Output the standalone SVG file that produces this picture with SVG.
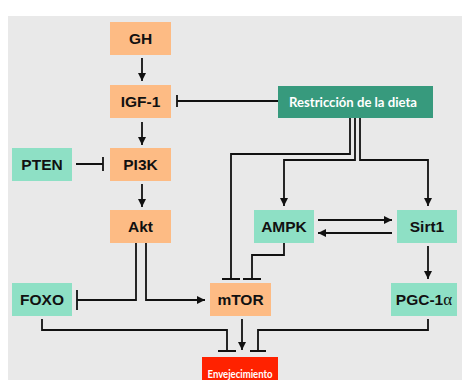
<svg xmlns="http://www.w3.org/2000/svg" width="462" height="380" viewBox="0 0 462 380">
<defs>
<marker id="arr" viewBox="0 0 10 10" refX="10" refY="5" markerWidth="4.5" markerHeight="4.5" orient="auto" markerUnits="strokeWidth">
<path d="M0,0 L10,5 L0,10 z" fill="#111"/>
</marker>
<style>
.bg{fill:#e9e9e9}
.or{fill:#fdbb84}
.tl{fill:#8ee0c5}
.gr{fill:#379a7d}
.rd{fill:#ff2200}
.t{font-family:"Liberation Sans",Arial,sans-serif;font-weight:bold;font-size:15.5px;fill:#111;text-anchor:middle}
.w{font-family:Lato,"Liberation Sans",sans-serif;font-weight:bold;fill:#fff;text-anchor:middle}
.c{fill:none;stroke:#111;stroke-width:1.8}
.a{marker-end:url(#arr)}
</style>
</defs>
<rect x="0" y="0" width="462" height="380" fill="#fff"/>
<rect class="bg" x="8" y="16" width="454" height="364"/>

<g id="connectors">
<path class="c a" d="M142,58 V81"/>
<path class="c" d="M278,101 H177 M177,95 V107"/>
<path class="c a" d="M142,122 V145"/>
<path class="c" d="M76,164 H103 M103,157 V171"/>
<path class="c a" d="M142,184 V207"/>
<path class="c" d="M350,118 V154 H231 V279 M222,279 H240"/>
<path class="c a" d="M355,118 V160 H284 V206"/>
<path class="c a" d="M360,118 V160 H428 V206"/>
<path class="c a" d="M318,220 H392"/>
<path class="c a" d="M392,233 H318"/>
<path class="c" d="M284,243 V255 H252 V279 M243,279 H261"/>
<path class="c" d="M136,243 V300 H77 M77,290 V310"/>
<path class="c a" d="M146,243 V300 H205"/>
<path class="c a" d="M428,246 V279"/>
<path class="c a" d="M242,319 V350"/>
<path class="c" d="M42,319 V330 H227 V351 M218,351 H236"/>
<path class="c" d="M428,319 V330 H258 V351 M250,351 H266"/>
</g>

<g id="GH"><rect class="or" x="110" y="22" width="61" height="33"/><text class="t" x="140.5" y="44">GH</text></g>
<g id="IGF-1"><rect class="or" x="110" y="85" width="61" height="33"/><text class="t" x="140.5" y="107">IGF-1</text></g>
<g id="dieta"><rect class="gr" x="278" y="86" width="155" height="32"/><text class="w" x="353" y="106.5" font-size="13.5" textLength="128" lengthAdjust="spacingAndGlyphs">Restricción de la dieta</text></g>
<g id="PTEN"><rect class="tl" x="12" y="148" width="60" height="33"/><text class="t" x="42" y="170">PTEN</text></g>
<g id="PI3K"><rect class="or" x="110" y="148" width="61" height="33"/><text class="t" x="140.5" y="170">PI3K</text></g>
<g id="Akt"><rect class="or" x="110" y="210" width="61" height="33"/><text class="t" x="140.5" y="232">Akt</text></g>
<g id="AMPK"><rect class="tl" x="254" y="210" width="60" height="33"/><text class="t" x="284" y="232">AMPK</text></g>
<g id="Sirt1"><rect class="tl" x="397" y="210" width="60" height="33"/><text class="t" x="427" y="232">Sirt1</text></g>
<g id="FOXO"><rect class="tl" x="12" y="283" width="60" height="33"/><text class="t" x="42" y="305">FOXO</text></g>
<g id="mTOR"><rect class="or" x="210" y="283" width="61" height="33"/><text class="t" x="240.5" y="305">mTOR</text></g>
<g id="PGC-1a"><rect class="tl" x="391" y="283" width="66" height="33"/><text class="t" x="424" y="305">PGC-1<tspan font-family="'Liberation Serif',serif" font-weight="normal" font-size="17">α</tspan></text></g>
<g id="Envejecimiento"><rect class="rd" x="202" y="357" width="76" height="23"/><text class="w" x="240" y="378" font-size="10.5" textLength="65" lengthAdjust="spacingAndGlyphs">Envejecimiento</text></g>
</svg>
